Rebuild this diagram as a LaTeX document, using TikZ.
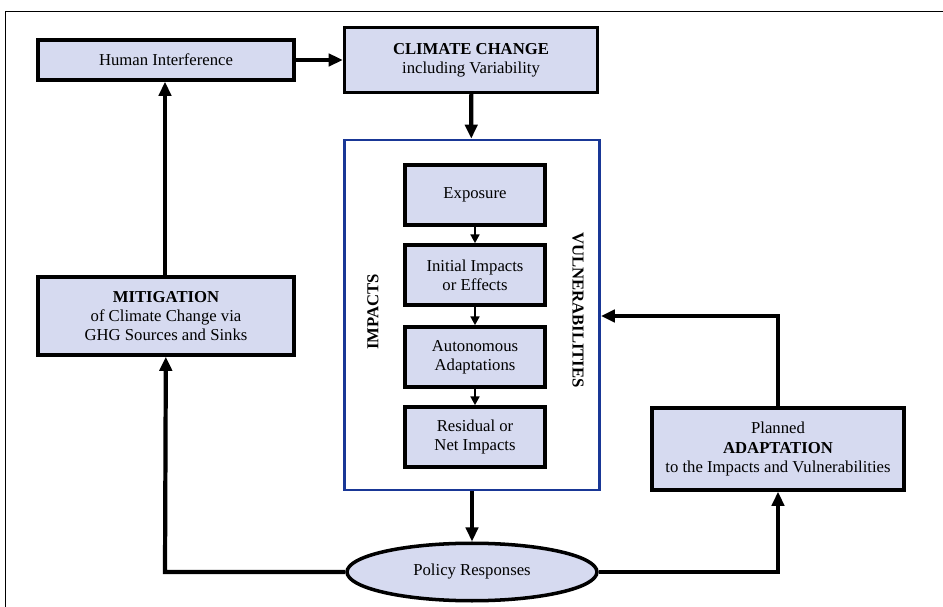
\documentclass[tikz,border=0pt]{standalone}
\usepackage{fontspec}
\setmainfont{Liberation Serif}
\usetikzlibrary{arrows.meta,positioning,shapes.geometric}
\definecolor{boxfill}{RGB}{214,218,240}
\definecolor{frameblue}{RGB}{25,55,150}

\begin{document}
\begin{tikzpicture}[x=0.02cm,y=-0.02cm,
        font=\fontsize{9.5}{11}\selectfont,
        box/.style={draw,line width=2pt,fill=boxfill,align=center,inner sep=2pt},
        inbox/.style={box,minimum width=2.8cm,minimum height=1.2cm},
        flow/.style={line width=2.4pt,-{Triangle[length=8pt,width=7pt]}},
        small/.style={line width=1.5pt,-{Triangle[length=5pt,width=5pt]}}]
            \useasboundingbox (0,0) rectangle (943,607);
            \draw[line width=0.5pt] (5,607) -- (5,11) -- (943,11);

            \node[box,minimum width=5.12cm,minimum height=0.8cm] (human) at (166,60) {Human Interference};
            \node[box,minimum width=5.06cm,minimum height=1.3cm] (climate) at (471,60) {\textbf{CLIMATE CHANGE}\\including Variability};
            \node[box,minimum width=5.12cm,minimum height=1.56cm] (mitig) at (166,316) {\textbf{MITIGATION}\\of Climate Change via\\GHG Sources and Sinks};
            \node[box,minimum width=5.04cm,minimum height=1.64cm] (adapt) at (778,449) {Planned\\\textbf{ADAPTATION}\\to the Impacts and Vulnerabilities};

            \node[draw=frameblue,line width=1.6pt,minimum width=5.1cm,minimum height=7cm] (vuln) at (472,315) {};
            \node[inbox] (expo) at (475,195) {Exposure};
            \node[inbox] (initial) at (475,275) {Initial Impacts\\or Effects};
            \node[inbox] (auto) at (475,357) {Autonomous\\Adaptations};
            \node[inbox] (resid) at (475,437) {Residual or\\Net Impacts};
            \node[rotate=90,font=\fontsize{9.5}{11}\selectfont\bfseries] (implabel) at (373,312) {IMPACTS};
            \node[rotate=-90,font=\fontsize{9.5}{11}\selectfont\bfseries] (vullabel) at (578,310) {VULNERABILITIES};

            \node[ellipse,draw,line width=2pt,fill=boxfill,minimum width=5.0cm,minimum height=1.15cm] (policy) at (472,572) {Policy Responses};

            \coordinate (pl) at (165,572);
            \coordinate (pr) at (778,572);
            \coordinate (vr) at (778,316);

            \begin{scope}[small]
                \draw (expo) -- (initial);
                \draw (initial) -- (auto);
                \draw (auto) -- (resid);
            \end{scope}
            \draw[flow] (human) -- (climate);
            \draw[flow] (climate) -- (vuln);
            \draw[flow] (vuln) -- (policy);
            \draw[flow] (policy) -- (pl) -- (mitig);
            \draw[flow] (mitig.north -| pl) -- (human.south -| pl);
            \draw[flow] (policy) -- (pr) -- (adapt);
            \draw[flow] (adapt) -- (vr) -- (vuln.east |- vr);
        \end{tikzpicture}
\end{document}
